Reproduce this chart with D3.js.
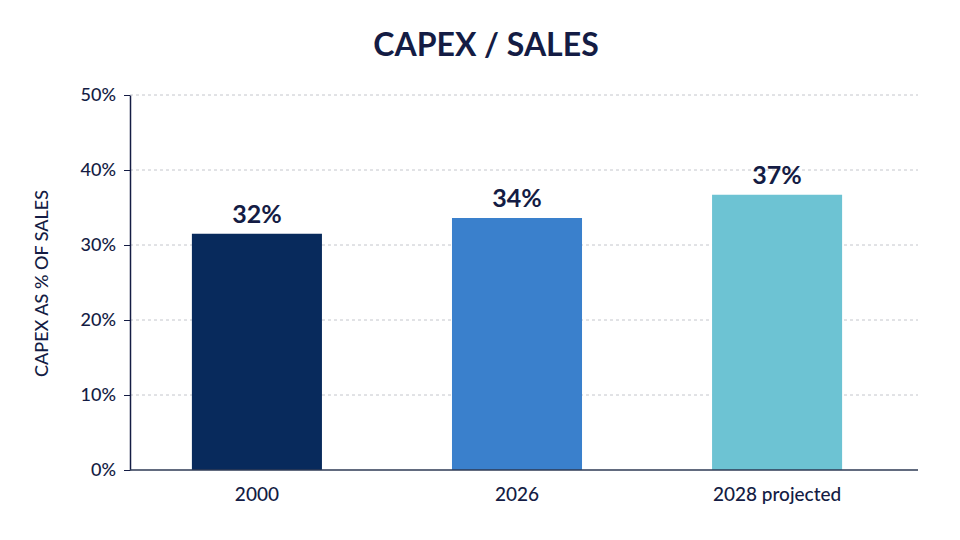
<!DOCTYPE html>
<html>
<head>
<meta charset="utf-8">
<script src="https://cdn.jsdelivr.net/npm/d3@7"></script>
<style>
  body { margin: 0; background: #fff; }
  svg { font-family: Lato, "Open Sans", sans-serif; }
</style>
</head>
<body>
<svg></svg>
<script>
const categories = ["2000", "2026", "2028 projected"];
const values = [31.5, 33.6, 36.7];
const valueLabels = ["32%", "34%", "37%"];
const barColors = ["#082a5c", "#3a80cc", "#6dc3d3"];
const yTicks = [0, 10, 20, 30, 40, 50];

const margin = {top: 95, right: 42, bottom: 70, left: 130},
      width = 960 - margin.left - margin.right,
      height = 540 - margin.top - margin.bottom;

const ink = "#141c44";

const root = d3.select("svg")
  .attr("width", 960)
  .attr("height", 540);

root.append("text")
  .attr("x", 486)
  .attr("y", 56)
  .attr("text-anchor", "middle")
  .attr("font-size", 32)
  .attr("font-weight", "bold")
  .attr("fill", ink)
  .text("CAPEX / SALES");

const svg = root.append("g")
  .attr("transform", "translate(" + margin.left + "," + margin.top + ")");

// bars sit a little left of an even spread, so the band range is shorter than the axis
const x = d3.scaleBand()
  .domain(categories)
  .range([0, 774])
  .paddingInner(0.5)
  .paddingOuter(0.238);

const y = d3.scaleLinear()
  .domain([0, 50])
  .range([height, 0]);

// dashed gridlines
svg.selectAll(".grid")
  .data(yTicks.filter(d => d > 0))
  .join("line")
    .attr("class", "grid")
    .attr("x1", 0)
    .attr("x2", width)
    .attr("y1", d => y(d))
    .attr("y2", d => y(d))
    .attr("stroke", "#c4c6cc")
    .attr("stroke-width", 1)
    .attr("stroke-dasharray", "3,3");

// bars
svg.selectAll(".bar")
  .data(values)
  .join("rect")
    .attr("class", "bar")
    .attr("x", (d, i) => x(categories[i]))
    .attr("y", d => y(d))
    .attr("width", x.bandwidth())
    .attr("height", d => height - y(d))
    .attr("fill", (d, i) => barColors[i]);

// value labels
svg.selectAll(".label")
  .data(values)
  .join("text")
    .attr("class", "label")
    .attr("x", (d, i) => x(categories[i]) + x.bandwidth() / 2)
    .attr("y", d => y(d) - 11)
    .attr("text-anchor", "middle")
    .attr("font-size", 25)
    .attr("font-weight", "bold")
    .attr("fill", ink)
    .text((d, i) => valueLabels[i]);

// y axis
const yAxis = svg.append("g")
  .call(d3.axisLeft(y).tickValues(yTicks).tickFormat(d => d + "%").tickSize(6).tickSizeOuter(0));
yAxis.select(".domain").attr("stroke", ink).attr("stroke-width", 1.5);
yAxis.selectAll(".tick line").attr("stroke", ink);
yAxis.selectAll(".tick text")
  .attr("font-size", 18)
  .attr("font-weight", 500)
  .attr("fill", ink)
  .attr("font-family", "Lato, sans-serif")
  .attr("x", -14);

// x axis
const xAxis = svg.append("g")
  .attr("transform", "translate(0," + height + ")")
  .call(d3.axisBottom(x).tickSize(0).tickSizeOuter(0));
xAxis.select(".domain").attr("d", "M0,0H" + width).attr("stroke", "#2e3a55").attr("stroke-width", 1.5);
xAxis.selectAll(".tick text")
  .attr("font-size", 19)
  .attr("font-weight", 500)
  .attr("fill", ink)
  .attr("font-family", "Lato, sans-serif")
  .attr("y", 31)
  .attr("dy", 0);

// y axis title
root.append("text")
  .attr("transform", "translate(48," + (margin.top + height / 2 + 1) + ") rotate(-90)")
  .attr("text-anchor", "middle")
  .attr("font-size", 18)
  .attr("font-weight", 500)
  .attr("fill", ink)
  .text("CAPEX AS % OF SALES");
</script>
</body>
</html>
